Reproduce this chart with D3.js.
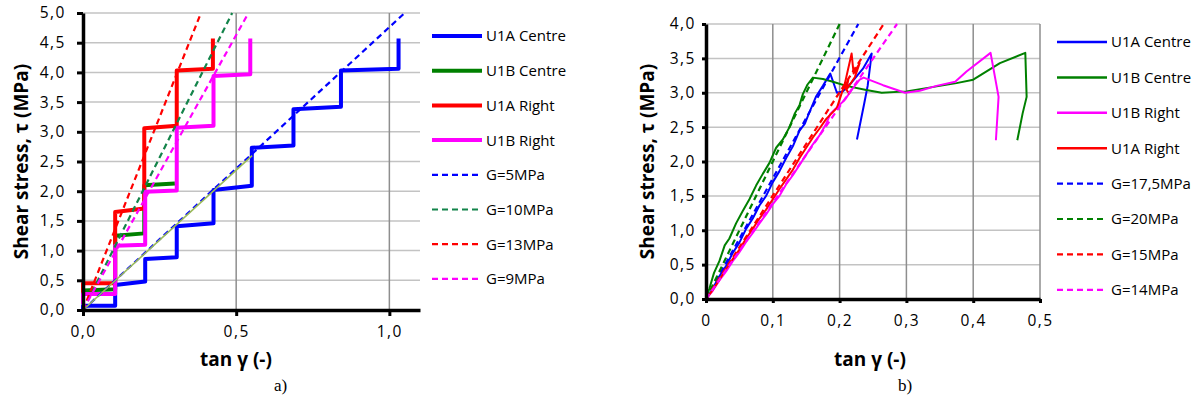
<!DOCTYPE html>
<html>
<head>
<meta charset="utf-8">
<script src="https://cdn.jsdelivr.net/npm/d3@7"></script>
<style>
  body { margin: 0; background: #fff; }
  text { font-family: "Open Sans", sans-serif; fill: #000; }
</style>
</head>
<body>
<svg id="chart" width="1195" height="405"></svg>
<script>
// Panel a) - step loading, tan gamma vs shear stress
const aYTicks = [0, 0.5, 1.0, 1.5, 2.0, 2.5, 3.0, 3.5, 4.0, 4.5, 5.0];
const aXTicks = [0, 0.5, 1.0];

const aU1ACentre = [[0, 0], [0, 0.07], [0.105, 0.07], [0.105, 0.42], [0.203, 0.48], [0.203, 0.86], [0.306, 0.89],
  [0.306, 1.41], [0.426, 1.46], [0.426, 2.02], [0.551, 2.09], [0.551, 2.73], [0.687, 2.77], [0.687, 3.38],
  [0.842, 3.42], [0.842, 4.03], [1.03, 4.06], [1.03, 4.57]];
const aU1BCentre = [[0, 0.1], [0, 0.33], [0.105, 0.35], [0.105, 1.25], [0.2, 1.29], [0.2, 2.1], [0.3, 2.13]];
const aU1ARight = [[0, 0.28], [0, 0.45], [0.105, 0.45], [0.105, 1.65], [0.2, 1.71], [0.2, 3.06], [0.306, 3.1],
  [0.306, 4.03], [0.424, 4.06], [0.424, 4.57]];
const aU1BRight = [[0, 0.1], [0, 0.27], [0.105, 0.27], [0.105, 1.08], [0.203, 1.1], [0.203, 1.99], [0.306, 2.01],
  [0.306, 3.07], [0.426, 3.1], [0.426, 3.94], [0.546, 3.97], [0.546, 4.57]];
const aG5 = [[0, 0], [1.05, 5.0]];
const aG10 = [[0, 0], [0.487, 5.0]];
const aG13 = [[0, 0], [0.385, 5.0]];
const aG9 = [[0, 0], [0.54, 5.0]];
const aTrend = [[0, 0], [0.552, 2.6]];

// Panel b) - monotonic loading
const bYTicks = [0, 0.5, 1.0, 1.5, 2.0, 2.5, 3.0, 3.5, 4.0];
const bXTicks = [0, 0.1, 0.2, 0.3, 0.4, 0.5];
const bXLabels = ["0", "0,1", "0,2", "0,3", "0,4", "0,5"];

const bU1ACentre = [[0, 0], [0.01, 0.15], [0.02, 0.33], [0.03, 0.48], [0.04, 0.67], [0.05, 0.82], [0.06, 1.02],
  [0.07, 1.17], [0.08, 1.36], [0.09, 1.5], [0.1, 1.7], [0.11, 1.86], [0.12, 2.05], [0.13, 2.22], [0.14, 2.45],
  [0.148, 2.55], [0.155, 2.72], [0.165, 2.95], [0.175, 3.1], [0.186, 3.28], [0.196, 3.0], [0.205, 3.02],
  [0.218, 3.15], [0.235, 3.35], [0.248, 3.57], [0.242, 3.1], [0.237, 2.85], [0.226, 2.32]];
const bU1BCentre = [[0, 0], [0.005, 0.15], [0.012, 0.38], [0.02, 0.55], [0.028, 0.78], [0.035, 0.88],
  [0.045, 1.1], [0.055, 1.28], [0.065, 1.45], [0.075, 1.65], [0.085, 1.82], [0.095, 1.98], [0.105, 2.2],
  [0.115, 2.32], [0.125, 2.5], [0.133, 2.7], [0.14, 2.82], [0.145, 2.98], [0.152, 3.12], [0.16, 3.22],
  [0.175, 3.2], [0.19, 3.16], [0.21, 3.1], [0.24, 3.04], [0.263, 3.0], [0.3, 3.02], [0.35, 3.1],
  [0.375, 3.14], [0.4, 3.19], [0.42, 3.31], [0.44, 3.43], [0.478, 3.58], [0.48, 2.94], [0.474, 2.7], [0.466, 2.31]];
const bU1BRight = [[0, 0], [0.01, 0.12], [0.02, 0.27], [0.03, 0.4], [0.04, 0.55], [0.05, 0.68], [0.06, 0.83],
  [0.07, 0.96], [0.08, 1.1], [0.09, 1.23], [0.1, 1.38], [0.11, 1.5], [0.12, 1.67], [0.13, 1.8], [0.14, 1.95],
  [0.15, 2.1], [0.16, 2.25], [0.17, 2.38], [0.18, 2.55], [0.186, 2.69], [0.208, 2.9], [0.218, 3.04],
  [0.23, 3.19], [0.236, 3.22], [0.265, 3.11], [0.298, 3.0], [0.32, 3.03], [0.345, 3.1], [0.373, 3.16],
  [0.39, 3.31], [0.426, 3.58], [0.438, 2.94], [0.434, 2.31]];
const bU1ARight = [[0, 0], [0.01, 0.13], [0.02, 0.28], [0.03, 0.44], [0.04, 0.58], [0.05, 0.72], [0.06, 0.88],
  [0.07, 1.02], [0.08, 1.17], [0.09, 1.3], [0.1, 1.45], [0.11, 1.6], [0.12, 1.74], [0.13, 1.88], [0.14, 2.05],
  [0.15, 2.2], [0.16, 2.35], [0.17, 2.48], [0.18, 2.62], [0.196, 2.78], [0.208, 3.14], [0.218, 3.57],
  [0.221, 3.28], [0.23, 3.43], [0.223, 3.23], [0.21, 3.04], [0.213, 3.19], [0.208, 3.07], [0.215, 2.98]];
const bG175 = [[0, 0], [0.228, 4.0]];
const bG20 = [[0, 0], [0.2, 4.0]];
const bG15 = [[0, 0], [0.266, 4.0]];
const bG14 = [[0, 0], [0.286, 4.0]];

const svg = d3.select("#chart");
const fmt = d => d3.format(".1f")(d).replace(".", ",");

function drawPanel(p) {
  const x = d3.scaleLinear().domain(p.xDomain).range([p.left, p.right]);
  const y = d3.scaleLinear().domain(p.yDomain).range([p.bottom, p.top]);
  const g = svg.append("g");

  // horizontal gridlines
  g.selectAll("line.hg").data(p.yTicks.slice(1)).enter().append("line")
    .attr("x1", p.left).attr("x2", p.right)
    .attr("y1", d => y(d)).attr("y2", d => y(d))
    .attr("stroke", "#c3c3c3").attr("stroke-width", 1.5);

  // vertical gridlines
  g.selectAll("line.vg").data(p.xTicks.slice(1)).enter().append("line")
    .attr("x1", d => x(d)).attr("x2", d => x(d))
    .attr("y1", p.top).attr("y2", p.bottom)
    .attr("stroke", "#8e8e8e").attr("stroke-width", 1.5);

  const line = d3.line().x(d => x(d[0])).y(d => y(d[1]));

  p.series.forEach(s => {
    g.append("path").datum(s.data)
      .attr("d", line)
      .attr("fill", "none")
      .attr("stroke", s.color)
      .attr("stroke-width", s.width)
      .attr("stroke-linejoin", "round")
      .attr("stroke-dasharray", s.dash ? "6,4" : null);
  });

  // axes
  const yAxis = g.append("g").attr("transform", "translate(" + p.left + ",0)")
    .call(d3.axisLeft(y).tickValues(p.yTicks).tickFormat(fmt).tickSizeInner(p.tick).tickSizeOuter(0).tickPadding(p.yPad));
  const xAxis = g.append("g").attr("transform", "translate(0," + p.bottom + ")")
    .call(d3.axisBottom(x).tickValues(p.xTicks).tickFormat((d, i) => p.xLabels[i]).tickSizeInner(p.tick).tickSizeOuter(0).tickPadding(p.xPad));
  [yAxis, xAxis].forEach(a => {
    a.select(".domain").attr("stroke", "#000").attr("stroke-width", 3.5);
    a.selectAll(".tick line").attr("stroke", "#000").attr("stroke-width", 3);
    a.selectAll(".tick text").style("font-size", "15.5px").style("letter-spacing", "1.5px")
      .style("font-family", "'Open Sans', sans-serif");
  });

  // axis titles
  g.append("text")
    .attr("x", p.xTitleX).attr("y", 366)
    .attr("text-anchor", "middle")
    .style("font-size", "19px").style("font-weight", "bold")
    .text("tan γ (-)");
  g.append("text")
    .attr("transform", "translate(" + p.yTitleX + "," + ((p.top + p.bottom) / 2 + p.yTitleShift) + ") rotate(-90)")
    .attr("text-anchor", "middle")
    .style("font-size", "19px").style("font-weight", "bold")
    .text(p.yTitle);

  // legend
  const lg = g.selectAll("g.leg").data(p.series.filter(s => s.label)).enter().append("g")
    .attr("transform", (d, i) => "translate(" + p.legX + "," + (p.legY + i * p.legStep) + ")");
  lg.append("line")
    .attr("x1", 0).attr("x2", 50)
    .attr("stroke", d => d.color)
    .attr("stroke-width", d => d.legWidth || d.width)
    .attr("stroke-dasharray", d => d.dash ? "6,4" : null);
  lg.append("text")
    .attr("x", 54).attr("dy", "0.36em")
    .style("font-size", "15px")
    .text(d => d.label);

  // caption
  svg.append("text")
    .attr("x", p.capX).attr("y", 391)
    .style("font-family", "'Liberation Serif', serif").style("font-size", "17px")
    .text(p.caption);
}

drawPanel({
  left: 83, right: 420, top: 13, bottom: 310,
  xDomain: [0, 1.1], yDomain: [0, 5.0],
  xTicks: aXTicks, xLabels: aXTicks.map(fmt), yTicks: aYTicks,
  tick: 6, yPad: 11, xPad: 10,
  xTitleX: 236, yTitleX: 28, yTitleShift: 0, yTitle: "Shear stress, τ  (MPa)",
  legX: 432, legY: 36, legStep: 34.7,
  capX: 274, caption: "a)",
  series: [
    { data: aU1ACentre, color: "#0000ff", width: 4, label: "U1A Centre" },
    { data: aU1BCentre, color: "#008000", width: 4, label: "U1B Centre" },
    { data: aU1ARight, color: "#ff0000", width: 4, label: "U1A Right" },
    { data: aU1BRight, color: "#ff00ff", width: 4, label: "U1B Right" },
    { data: aG5, color: "#0000ff", width: 2.2, dash: true, label: "G=5MPa" },
    { data: aG10, color: "#13844a", width: 2.2, dash: true, label: "G=10MPa" },
    { data: aG13, color: "#ff0000", width: 2.2, dash: true, label: "G=13MPa" },
    { data: aG9, color: "#ff00ff", width: 2.2, dash: true, label: "G=9MPa" },
    { data: aTrend, color: "#9bbb59", width: 1.6 }
  ]
});

drawPanel({
  left: 706, right: 1040, top: 24, bottom: 299,
  xDomain: [0, 0.5], yDomain: [0, 4.0],
  xTicks: bXTicks, xLabels: bXLabels, yTicks: bYTicks,
  tick: 4, yPad: 6, xPad: 12,
  xTitleX: 870, yTitleX: 654, yTitleShift: 0, yTitle: "Shear stress, τ (MPa)",
  legX: 1057, legY: 42, legStep: 35.4,
  capX: 898, caption: "b)",
  series: [
    { data: bU1ACentre, color: "#0000ff", width: 2, label: "U1A Centre", legWidth: 2.5 },
    { data: bU1BCentre, color: "#008000", width: 2, label: "U1B Centre", legWidth: 2.5 },
    { data: bU1BRight, color: "#ff00ff", width: 2, label: "U1B Right", legWidth: 2.5 },
    { data: bU1ARight, color: "#ff0000", width: 2, label: "U1A Right", legWidth: 2.5 },
    { data: bG175, color: "#0000ff", width: 2.2, dash: true, label: "G=17,5MPa" },
    { data: bG20, color: "#008000", width: 2.2, dash: true, label: "G=20MPa" },
    { data: bG15, color: "#ff0000", width: 2.2, dash: true, label: "G=15MPa" },
    { data: bG14, color: "#ff00ff", width: 2.2, dash: true, label: "G=14MPa" }
  ]
});
</script>
</body>
</html>
